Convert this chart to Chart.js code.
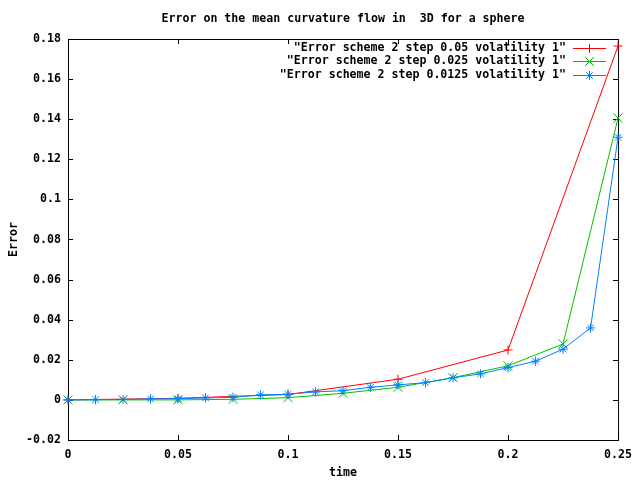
<!DOCTYPE html>
<html>
<head>
<meta charset="utf-8">
<script src="https://cdn.jsdelivr.net/npm/chart.js@4.4.1/dist/chart.umd.min.js"></script>
<style>
  body { margin: 0; background: #fff; }
  #wrap { width: 640px; height: 480px; background: #fff; }
</style>
</head>
<body>
<div id="wrap"><canvas id="myChart" width="640" height="480"></canvas></div>
<script>
// Valeurs
const timesStep05 = [0, 0.05, 0.1, 0.15, 0.2, 0.25];
const errorStep05 = [0, 0.0008, 0.0027, 0.0103, 0.0249, 0.1765];

const timesStep025 = [0, 0.025, 0.05, 0.075, 0.1, 0.125, 0.15, 0.175, 0.2, 0.225, 0.25];
const errorStep025 = [0, 0, 0, 0.0003, 0.0011, 0.0033, 0.0063, 0.0111, 0.017, 0.0279, 0.1406];

const timesStep0125 = [0, 0.0125, 0.025, 0.0375, 0.05, 0.0625, 0.075, 0.0875, 0.1, 0.1125, 0.125,
  0.1375, 0.15, 0.1625, 0.175, 0.1875, 0.2, 0.2125, 0.225, 0.2375, 0.25];
const errorStep0125 = [0, 0.0001, 0.0002, 0.0005, 0.0006, 0.001, 0.0013, 0.0025, 0.0028, 0.004, 0.0046,
  0.0063, 0.0075, 0.0086, 0.011, 0.013, 0.0161, 0.0193, 0.0253, 0.0359, 0.131];

const seriesLabels = [
  '"Error scheme 2 step 0.05 volatility 1"',
  '"Error scheme 2 step 0.025 volatility 1"',
  '"Error scheme 2 step 0.0125 volatility 1"'
];

const xTicks = [0, 0.05, 0.1, 0.15, 0.2, 0.25];
const xTickLabels = ['0', '0.05', '0.1', '0.15', '0.2', '0.25'];
const yTicks = [-0.02, 0, 0.02, 0.04, 0.06, 0.08, 0.1, 0.12, 0.14, 0.16, 0.18];
const yTickLabels = ['-0.02', '0', '0.02', '0.04', '0.06', '0.08', '0.1', '0.12', '0.14', '0.16', '0.18'];

const chartTitle = 'Error on the mean curvature flow in  3D for a sphere';

const FONT = { family: '"DejaVu Sans Mono", "Liberation Mono", monospace', size: 11.6, weight: 'bold' };

const toPoints = (xs, ys) => xs.map((x, i) => ({ x: x, y: ys[i] }));

// Cadre + graduations vers l'intérieur (style gnuplot)
const frame = {
  id: 'frame',
  beforeDatasetsDraw(chart) {
    const { ctx, chartArea: a, scales } = chart;
    ctx.save();
    ctx.strokeStyle = '#000';
    ctx.lineWidth = 1;
    ctx.strokeRect(a.left + 0.5, a.top + 0.5, a.right - a.left, a.bottom - a.top);
    ctx.beginPath();
    xTicks.forEach(v => {
      const px = Math.round(scales.x.getPixelForValue(v)) + 0.5;
      ctx.moveTo(px, a.bottom); ctx.lineTo(px, a.bottom - 5);
      ctx.moveTo(px, a.top); ctx.lineTo(px, a.top + 5);
    });
    yTicks.forEach(v => {
      const py = Math.round(scales.y.getPixelForValue(v)) + 0.5;
      ctx.moveTo(a.left, py); ctx.lineTo(a.left + 5, py);
      ctx.moveTo(a.right, py); ctx.lineTo(a.right - 5, py);
    });
    ctx.stroke();
    ctx.restore();
  }
};

// Titre et légende dessinés à la main
const decorations = {
  id: 'decorations',
  afterDraw(chart) {
    const { ctx, chartArea: a } = chart;
    ctx.save();
    ctx.font = FONT.weight + ' ' + FONT.size + 'px ' + FONT.family;
    ctx.fillStyle = '#000';
    ctx.textBaseline = 'middle';
    ctx.textAlign = 'center';
    ctx.fillText(chartTitle, (a.left + a.right) / 2, 19);

    chart.data.datasets.forEach((ds, i) => {
      const y = 48 + i * 13.3;
      ctx.textAlign = 'right';
      ctx.fillStyle = '#000';
      ctx.fillText(ds.label, 566, y);
      ctx.strokeStyle = ds.borderColor;
      ctx.lineWidth = 1;
      ctx.beginPath();
      ctx.moveTo(573, Math.round(y) + 0.5);
      ctx.lineTo(606, Math.round(y) + 0.5);
      ctx.stroke();
      Chart.helpers.drawPoint(ctx, {
        pointStyle: ds.pointStyle, radius: ds.pointRadius, borderWidth: 1, rotation: 0
      }, 589.5, Math.round(y) + 0.5);
    });
    ctx.restore();
  }
};

const ctx = document.getElementById('myChart');
new Chart(ctx, {
  type: 'line',
  data: {
    datasets: [{
      label: seriesLabels[0],
      data: toPoints(timesStep05, errorStep05),
      borderColor: '#ff0000',
      pointBorderColor: '#ff0000',
      pointStyle: 'cross',
      pointRadius: 4.5,
      order: 2
    }, {
      label: seriesLabels[1],
      data: toPoints(timesStep025, errorStep025),
      borderColor: '#00c000',
      pointBorderColor: '#00c000',
      pointStyle: 'crossRot',
      pointRadius: 6.4,
      order: 1
    }, {
      label: seriesLabels[2],
      data: toPoints(timesStep0125, errorStep0125),
      borderColor: '#0080ff',
      pointBorderColor: '#0080ff',
      pointStyle: 'star',
      pointRadius: 4.6,
      order: 0
    }]
  },
  options: {
    responsive: false,
    animation: false,
    devicePixelRatio: 1,
    layout: { padding: { top: 39, right: 20, left: 0, bottom: 0 } },
    elements: {
      line: { borderWidth: 1, tension: 0, fill: false },
      point: { borderWidth: 1, hoverRadius: 5, backgroundColor: 'transparent' }
    },
    datasets: { line: { clip: false } },
    plugins: { legend: { display: false }, tooltip: { enabled: false }, title: { display: false } },
    scales: {
      x: {
        type: 'linear',
        min: 0,
        max: 0.25,
        grid: { display: false, tickLength: 0 },
        border: { display: false },
        afterBuildTicks: s => { s.ticks = xTicks.map(v => ({ value: v })); },
        afterFit: s => { s.height = 40; },
        ticks: { color: '#000', font: FONT, padding: 8, maxRotation: 0, autoSkip: false,
          callback: (v, i) => xTickLabels[i] },
        title: { display: true, text: 'time', color: '#000', font: FONT, padding: { top: 0, bottom: 0 } }
      },
      y: {
        type: 'linear',
        min: -0.02,
        max: 0.18,
        grid: { display: false, tickLength: 0 },
        border: { display: false },
        afterBuildTicks: s => { s.ticks = yTicks.map(v => ({ value: v })); },
        afterFit: s => { s.width = 68; },
        ticks: { color: '#000', font: FONT, padding: 7, autoSkip: false,
          callback: (v, i) => yTickLabels[i] },
        title: { display: true, text: 'Error', color: '#000', font: FONT, padding: { top: 7, bottom: 0 } }
      }
    }
  },
  plugins: [frame, decorations]
});
</script>
</body>
</html>
